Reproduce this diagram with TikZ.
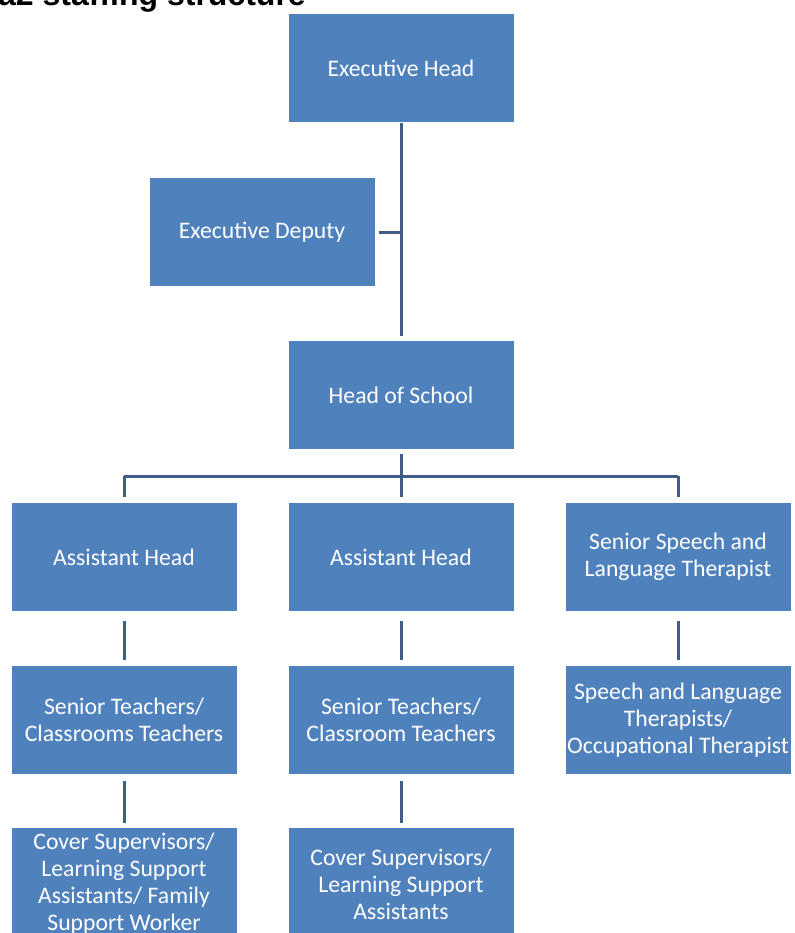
\documentclass[tikz,border=0pt]{standalone}
\usepackage{fontspec}
\setmainfont{Carlito}
\newfontfamily\titlefont{Liberation Sans}
\definecolor{boxblue}{RGB}{79,129,189}
\definecolor{linecol}{RGB}{62,94,136}
\begin{document}
\begin{tikzpicture}[x=1pt,y=-1pt,
  orgbox/.style={fill=boxblue, draw=none, minimum width=225pt, minimum height=108pt,
    inner sep=0pt, align=center, text=white, font=\fontsize{23.7}{27}\selectfont},
  conn/.style={draw=linecol, line width=3pt}]
\useasboundingbox (0,0) rectangle (794,933);
\fill[white] (0,0) rectangle (794,933);
\node[anchor=base west, inner sep=0pt, font=\titlefont\bfseries\fontsize{32}{32}\selectfont] (title) at (-2,6) {a2 staffing structure};
% boxes
\node[orgbox] (eh) at (401,68) {Executive Head};
\node[orgbox] (ed) at (262,232) {Executive Deputy};
\node[orgbox] (hos) at (401,395) {Head of School};
\node[orgbox] (ah1) at (124,557) {Assistant Head};
\node[orgbox] (ah2) at (401,557) {Assistant Head};
\node[orgbox] (ssl) at (678,557) {Senior Speech and\\Language Therapist};
\node[orgbox] (st1) at (124,720) {Senior Teachers/\\Classrooms Teachers};
\node[orgbox] (st2) at (401,720) {Senior Teachers/\\Classroom Teachers};
\node[orgbox] (slt) at (678,720) {Speech and Language\\Therapists/\\Occupational Therapist};
\node[orgbox, minimum height=112pt] (cs1) at (124,884) {Cover Supervisors/\\Learning Support\\Assistants/ Family\\Support Worker};
\node[orgbox, minimum height=112pt] (cs2) at (401,884) {Cover Supervisors/\\Learning Support\\Assistants};
% connectors
\coordinate (spine) at (eh.south |- ed.east);
\draw[conn, shorten <=1pt, shorten >=5pt] (eh.south) -- (hos.north);
\draw[conn, shorten <=4pt] (ed.east) -- (spine);
\coordinate (bus) at (401,476);
\draw[conn, shorten <=5pt] (hos.south) -- (bus);
\draw[conn] (bus -| ah1.north) -- (bus -| ssl.north);
\draw[conn, shorten >=6pt] (bus -| ah1.north) -- (ah1.north);
\draw[conn, shorten >=6pt] (bus) -- (ah2.north);
\draw[conn, shorten >=6pt] (bus -| ssl.north) -- (ssl.north);
\draw[conn, shorten <=10pt, shorten >=6pt] (ah1.south) -- (st1.north);
\draw[conn, shorten <=10pt, shorten >=6pt] (ah2.south) -- (st2.north);
\draw[conn, shorten <=10pt, shorten >=6pt] (ssl.south) -- (slt.north);
\draw[conn, shorten <=7pt, shorten >=5pt] (st1.south) -- (cs1.north);
\draw[conn, shorten <=7pt, shorten >=5pt] (st2.south) -- (cs2.north);
\end{tikzpicture}
\end{document}
